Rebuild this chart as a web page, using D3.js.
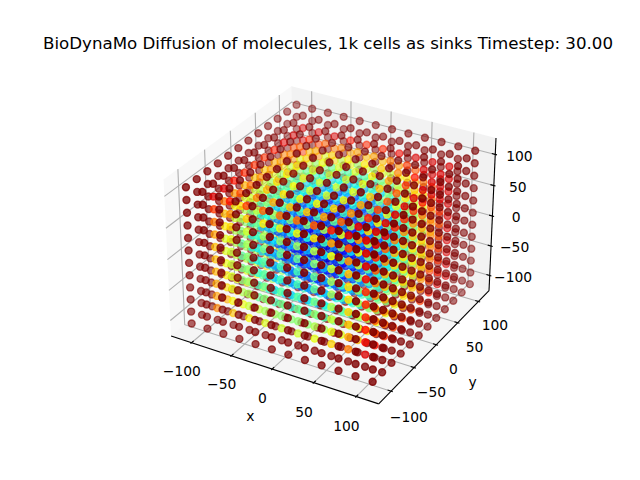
<!DOCTYPE html>
<html>
<head>
<meta charset="utf-8">
<script src="https://cdnjs.cloudflare.com/ajax/libs/d3/7.8.5/d3.min.js"></script>
<style>
  html, body { margin: 0; padding: 0; background: #fff; }
  text { font-family: "DejaVu Sans", sans-serif; fill: #000; }
</style>
</head>
<body>
<div id="chart"></div>
<script>
const titleText = 'BioDynaMo Diffusion of molecules, 1k cells as sinks Timestep: 30.00';
const gridCoords = [-110, -90, -70, -50, -30, -10, 10, 30, 50, 70, 90, 110];
const tickValues = [-100, -50, 0, 50, 100];
const tickLabels = ['\u2212100', '\u221250', '0', '50', '100'];

// colour value of the boundary layer (|coord| = 110)
const boundaryValue = 1.0;
// colour values, one per octant cell with sorted |coord|
// index order i <= j <= k, where index 0..4 stands for |coord| 10,30,50,70,90
const octantKeys = ['000','001','002','003','004','011','012','013','014','022','023','024','033','034','044',
  '111','112','113','114','122','123','124','133','134','144','222','223','224','233','234','244','333','334','344','444'];
const octantValues = [.03,.07,.14,.26,.46,.11,.17,.29,.48,.23,.35,.52,.44,.59,.70,
  .14,.21,.32,.50,.26,.37,.54,.47,.61,.71,.32,.42,.57,.50,.64,.73,.58,.69,.77,.83];
// the field is not quite symmetric: per layer corrections, same order as gridCoords
const xLayerShift = [0, .04, .03, .02, .01, 0, 0, .02, .06, .11, .2, 0];
const yLayerShift = [0, -.03, -.01, 0, 0, 0, 0, .01, .02, .03, .05, 0];
const zLayerShift = [0, -.07, -.04, -.01, 0, 0, 0, .02, .04, .07, .12, 0];
const maxInnerValue = 0.92;

const width = 640, height = 480;
const lim = 121;            // data limits with margin
const paneLim = lim + 2 * lim / 12 / 4;   // panes are a bit bigger than the limits
const dist = 10;
const elev = 30 * Math.PI / 180, azim = -60 * Math.PI / 180;
const boxAspect = [4, 4, 3].map(d => d * 1.8294640721620434 / Math.hypot(4, 4, 3));

const axisLabelShift = 44;
const markerRadius = 3.5, markerEdge = 1.4, baseAlpha = 1;

const jetR = d3.scaleLinear().domain([0, .35, .66, .89, 1]).range([0, 0, 1, 1, .5]);
const jetG = d3.scaleLinear().domain([0, .125, .375, .64, .91, 1]).range([0, 0, 1, 1, 0, 0]);
const jetB = d3.scaleLinear().domain([0, .11, .34, .65, 1]).range([.5, 1, 1, 0, 0]);
const jet = t => d3.rgb(jetR(t) * 255, jetG(t) * 255, jetB(t) * 255).formatHex();

// axes box of the default subplot, shrunk to a square
const axSize = 369.6, axLeft = 80 + (496 - axSize) / 2, axTop = 57.6;
const px = d3.scaleLinear().domain([-0.95 / dist, 0.9 / dist]).range([axLeft, axLeft + axSize]);
const py = d3.scaleLinear().domain([-0.95 / dist, 0.9 / dist]).range([axTop + axSize, axTop]);
const worldX = d3.scaleLinear().domain([-lim, lim]).range([0, boxAspect[0]]);
const worldY = d3.scaleLinear().domain([-lim, lim]).range([0, boxAspect[1]]);
const worldZ = d3.scaleLinear().domain([-lim, lim]).range([0, boxAspect[2]]);

const n = [Math.cos(elev) * Math.cos(azim), Math.cos(elev) * Math.sin(azim), Math.sin(elev)];
const normalize = v => { const l = Math.hypot(...v); return v.map(d => d / l); };
const cross = (a, b) => [a[1] * b[2] - a[2] * b[1], a[2] * b[0] - a[0] * b[2], a[0] * b[1] - a[1] * b[0]];
const dot = (a, b) => a[0] * b[0] + a[1] * b[1] + a[2] * b[2];
const u = normalize(cross([0, 0, 1], n));
const v = cross(n, u);

function project(x, y, z) {
  const p = [
    worldX(x) - boxAspect[0] / 2,
    worldY(y) - boxAspect[1] / 2,
    worldZ(z) - boxAspect[2] / 2
  ];
  const w = dist - dot(n, p);
  return { x: px(dot(u, p) / w), y: py(dot(v, p) / w), depth: w };
}

function cellValue(x, y, z) {
  const a = [x, y, z].map(d => Math.abs(d));
  if (a.some(d => d > 100)) return boundaryValue;
  const key = a.map(d => (d - 10) / 20).sort().join('');
  const base = octantValues[octantKeys.indexOf(key)];
  const shift = xLayerShift[gridCoords.indexOf(x)] + yLayerShift[gridCoords.indexOf(y)] + zLayerShift[gridCoords.indexOf(z)];
  return Math.min(maxInnerValue, Math.max(0, base + shift));
}

const svg = d3.select('#chart').append('svg')
  .attr('width', width).attr('height', height)
  .style('display', 'block');

const lineGen = d3.line().x(d => d.x).y(d => d.y);
const path3d = pts => lineGen(pts.map(d => project(...d)));

// panes
const L = paneLim;
const panes = [
  { fill: 'rgb(242,242,242)', pts: [[-L, -L, -L], [-L, L, -L], [-L, L, L], [-L, -L, L]] },
  { fill: 'rgb(230,230,230)', pts: [[-L, L, -L], [L, L, -L], [L, L, L], [-L, L, L]] },
  { fill: 'rgb(236,236,236)', pts: [[-L, -L, -L], [L, -L, -L], [L, L, -L], [-L, L, -L]] }
];
svg.selectAll('.pane').data(panes).enter().append('path')
  .attr('class', 'pane')
  .attr('d', d => path3d(d.pts) + 'Z')
  .attr('fill', d => d.fill)
  .attr('fill-opacity', 0.5);

// grid lines
const gridPaths = [];
tickValues.forEach(t => {
  gridPaths.push([[t, -L, -L], [t, L, -L], [t, L, L]]);
  gridPaths.push([[-L, t, L], [-L, t, -L], [L, t, -L]]);
  gridPaths.push([[L, L, t], [-L, L, t], [-L, -L, t]]);
});
svg.selectAll('.grid').data(gridPaths).enter().append('path')
  .attr('class', 'grid')
  .attr('d', path3d)
  .attr('fill', 'none')
  .attr('stroke', 'rgb(176,176,176)')
  .attr('stroke-width', 1.11);

// axis lines
const axisLines = [
  [[-L, -L, -L], [L, -L, -L]],
  [[L, -L, -L], [L, L, -L]],
  [[L, L, -L], [L, L, L]]
];
svg.selectAll('.axis-line').data(axisLines).enter().append('path')
  .attr('class', 'axis-line')
  .attr('d', path3d)
  .attr('stroke', '#000')
  .attr('stroke-width', 1.11);

// ticks and their labels
const d = (2 * lim) / 12;
const tickMarks = [], tickTexts = [];
tickValues.forEach((t, i) => {
  tickMarks.push([[t, -L + 0.2 * d, -L], [t, -L - 0.1 * d, -L]]);
  tickMarks.push([[L - 0.2 * d, t, -L], [L + 0.1 * d, t, -L]]);
  tickMarks.push([[L - 0.2 * d, L, t], [L + 0.1 * d, L, t]]);
  tickTexts.push({ pos: [t, -L - 20, -L - 32], label: tickLabels[i] });
  tickTexts.push({ pos: [L + 21, t, -L - 32], label: tickLabels[i] });
  tickTexts.push({ pos: [L + 23.6, L + 10, t], label: tickLabels[i] });
});
svg.selectAll('.tick').data(tickMarks).enter().append('path')
  .attr('class', 'tick')
  .attr('d', path3d)
  .attr('stroke', '#000')
  .attr('stroke-width', 1.11);

svg.selectAll('.tick-label').data(tickTexts).enter().append('text')
  .attr('class', 'tick-label')
  .attr('x', t => project(...t.pos).x)
  .attr('y', t => project(...t.pos).y)
  .attr('dy', '0.36em')
  .attr('text-anchor', 'middle')
  .style('font-size', '13.89px')
  .text(t => t.label);

// axis labels, no z label in the reference
const axisLabels = [
  { pos: [0, -L - axisLabelShift, -L - axisLabelShift], label: 'x' },
  { pos: [L + axisLabelShift, 0, -L - axisLabelShift], label: 'y' }
];
svg.selectAll('.axis-label').data(axisLabels).enter().append('text')
  .attr('class', 'axis-label')
  .attr('x', t => project(...t.pos).x)
  .attr('y', t => project(...t.pos).y)
  .attr('dy', '0.3em')
  .attr('text-anchor', 'middle')
  .style('font-size', '13.89px')
  .text(t => t.label);

// scatter points, far ones first with depth shading
const points = [];
gridCoords.forEach(x => gridCoords.forEach(y => gridCoords.forEach(z => {
  const p = project(x, y, z);
  points.push({ sx: p.x, sy: p.y, depth: p.depth, value: cellValue(x, y, z) });
})));
points.sort((a, b) => b.depth - a.depth);

const zs = points.map(p => -dist / p.depth);
const zNorm = d3.scaleLinear().domain(d3.extent(zs)).range([0, 1]);
const shade = p => baseAlpha * Math.max(0.3, Math.min(1, 1 - zNorm(-dist / p.depth) * 0.7));

svg.append('g').selectAll('circle').data(points).enter().append('circle')
  .attr('cx', p => p.sx)
  .attr('cy', p => p.sy)
  .attr('r', markerRadius)
  .attr('fill', p => jet(p.value))
  .attr('stroke', p => jet(p.value))
  .attr('stroke-width', markerEdge)
  .attr('fill-opacity', shade)
  .attr('stroke-opacity', shade);

svg.append('text')
  .attr('x', axLeft + axSize / 2)
  .attr('y', 49.3)
  .attr('text-anchor', 'middle')
  .style('font-size', '16.67px')
  .text(titleText);
</script>
</body>
</html>
